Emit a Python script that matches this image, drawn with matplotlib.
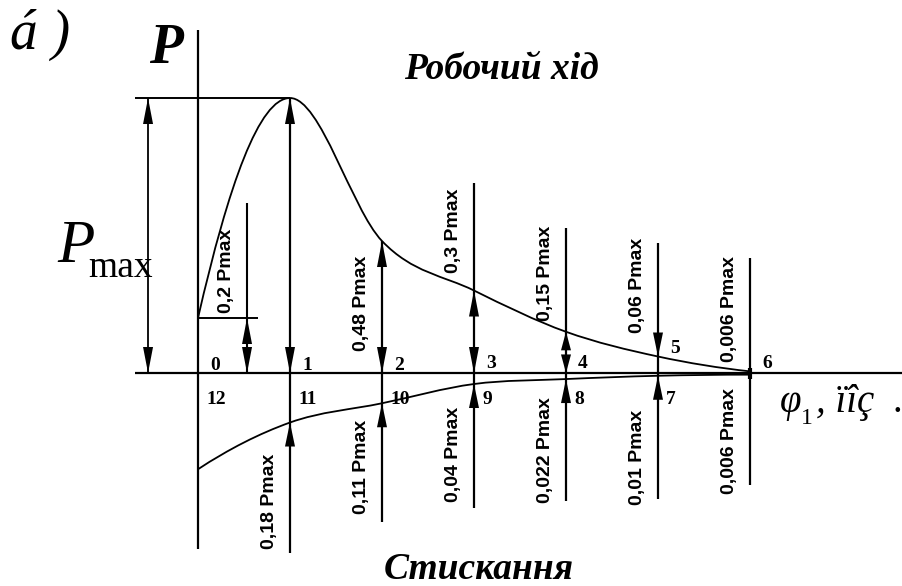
import numpy as np
import matplotlib
matplotlib.use('Agg')
import matplotlib.pyplot as plt
from matplotlib.path import Path
from matplotlib.patches import PathPatch, Polygon

# force diagram: working stroke (top) and compression (bottom), in units of Pmax
points = [0, 1, 2, 3, 4, 5, 6]
p_work = [0.2, 1.0, 0.48, 0.3, 0.15, 0.06, 0.006]
p_comp = [0.35, 0.18, 0.11, 0.04, 0.022, 0.01, 0.006]
names_top = ['0', '1', '2', '3', '4', '5', '6']
names_bottom = ['12', '11', '10', '9', '8', '7']
work_labels = ['0,2 Pmax', '0,48 Pmax', '0,3 Pmax', '0,15 Pmax', '0,06 Pmax', '0,006 Pmax']
comp_labels = ['0,18 Pmax', '0,11 Pmax', '0,04 Pmax', '0,022 Pmax', '0,01 Pmax', '0,006 Pmax']

serif = ['Liberation Serif', 'DejaVu Serif']
narrow = ['Liberation Sans Narrow', 'Liberation Sans', 'DejaVu Sans']

fig = plt.figure(figsize=(9.03, 5.86), dpi=100)
ax = fig.add_axes([0, 0, 1, 1])
ax.set_xlim(-2.1522, 7.6630)
ax.set_ylim(-0.7745, 1.3564)
ax.axis('off')

# pixels per data unit (for arrow head sizes)
SX = 92.0
SY = 275.0


def tangents(x, y):
    # central differences, flat at a local extremum
    x = np.asarray(x, float); y = np.asarray(y, float)
    h = np.diff(x); d = np.diff(y) / h
    m = np.zeros_like(y)
    for i in range(1, len(y) - 1):
        if d[i - 1] * d[i] > 0:
            m[i] = (y[i + 1] - y[i - 1]) / (x[i + 1] - x[i - 1])
    m[0] = ((2 * h[0] + h[1]) * d[0] - h[0] * d[1]) / (h[0] + h[1])
    m[-1] = ((2 * h[-1] + h[-2]) * d[-1] - h[-1] * d[-2]) / (h[-1] + h[-2])
    return m


def smooth_curve(x, y, lw=1.3):
    m = tangents(x, y)
    verts = [(x[0], y[0])]
    codes = [Path.MOVETO]
    for i in range(len(x) - 1):
        h = x[i + 1] - x[i]
        verts += [(x[i] + h / 3, y[i] + m[i] * h / 3),
                  (x[i + 1] - h / 3, y[i + 1] - m[i + 1] * h / 3),
                  (x[i + 1], y[i + 1])]
        codes += [Path.CURVE4] * 3
    ax.add_patch(PathPatch(Path(verts, codes), fill=False, lw=lw, color='black'))


def head(x, y, up, length=26.0):
    # filled arrow head with its tip at (x, y)
    L = length / SY
    w = 5.0 / SX
    base = y - L if up else y + L
    ax.add_patch(Polygon([(x, y), (x - w, base), (x + w, base)], closed=True,
                         color='black', lw=0))


def vline(x, y0, y1, lw=1.5):
    ax.plot([x, x], [y0, y1], color='black', lw=lw, solid_capstyle='butt')


def hline(y, x0, x1, lw=1.5):
    ax.plot([x0, x1], [y, y], color='black', lw=lw, solid_capstyle='butt')


# axes
hline(0, -0.685, 7.663, lw=1.6)
vline(0, -0.64, 1.247, lw=1.6)

# curves
smooth_curve(points, p_work)
smooth_curve(points, [-v for v in p_comp])

# Pmax dimension
pmax_x = -0.543
hline(1.0, -0.685, 1.0, lw=1.4)
vline(pmax_x, 0, 1.0, lw=1.3)
head(pmax_x, 1.0, True)
head(pmax_x, 0.0, False)

# 0,2 Pmax dimension at the start of the stroke
dim0_x = 0.533
hline(p_work[0], 0, 0.652, lw=1.4)
vline(dim0_x, 0, 0.618)
head(dim0_x, p_work[0], True)
head(dim0_x, 0.0, False)

# ordinate lines at points 1..6: top/bottom extents
line_top = [None, 1.0, 0.48, 0.691, 0.527, 0.473, 0.418]
line_bottom = [None, -0.655, -0.542, -0.491, -0.465, -0.458, -0.407]
for i in points[1:]:
    top = line_top[i]
    vline(i, line_bottom[i], top, lw=1.6)
    pw, pc = p_work[i], -p_comp[i]
    if i == 6:
        continue
    if i == 5:
        head(i, pw, False, 24)
    else:
        L = min(26.0, pw * SY * 0.45)
        head(i, pw, True, L)
        head(i, 0.0, False, L)
    head(i, pc, True, 24)

# mark where both curves meet the axis
vline(6, -0.02, 0.02, lw=3)

# value labels
dx_lab = -0.228
work_lab_x = [0.315] + [i + dx_lab for i in points[2:]]
work_lab_y = [0.373, 0.253, 0.518, 0.362, 0.32, 0.233]
for x, y, s in zip(work_lab_x, work_lab_y, work_labels):
    ax.text(x, y, s, rotation=90, ha='center', va='center', fontsize=14,
            fontweight='bold', family=narrow)

comp_lab_x = [i + dx_lab for i in points[1:]]
comp_lab_y = [-0.465, -0.34, -0.296, -0.282, -0.305, -0.247]
for x, y, s in zip(comp_lab_x, comp_lab_y, comp_labels):
    ax.text(x, y, s, rotation=90, ha='center', va='center', fontsize=14,
            fontweight='bold', family=narrow)

# point numbers
top_num_y = [0.011, 0.011, 0.011, 0.018, 0.018, 0.073, 0.018]
for i, s in enumerate(names_top):
    ax.text(i + 0.13, top_num_y[i], s, ha='left', va='baseline', fontsize=14,
            fontweight='bold', family=serif)
for i, s in enumerate(names_bottom):
    ax.text(i + 0.09, -0.112, s, ha='left', va='baseline', fontsize=14,
            fontweight='bold', family=serif)

# captions
ax.text(-2.043, 1.18, 'á )', ha='left', va='baseline', fontsize=40,
        fontstyle='italic', family=serif)
ax.text(-0.53, 1.127, 'P', ha='left', va='baseline', fontsize=40,
        fontstyle='italic', fontweight='bold', family=serif)
ax.text(3.293, 1.069, 'Робочий хід', ha='center', va='baseline', fontsize=27,
        fontstyle='italic', fontweight='bold', family=serif)
ax.text(3.054, -0.749, 'Стискання', ha='center', va='baseline', fontsize=27,
        fontstyle='italic', fontweight='bold', family=serif)
ax.text(-1.533, 0.404, 'P', ha='left', va='baseline', fontsize=44,
        fontstyle='italic', family=serif)
ax.text(-1.196, 0.349, 'max', ha='left', va='baseline', fontsize=27,
        family=serif)
ax.text(6.326, -0.142, 'φ', ha='left', va='baseline', fontsize=28,
        fontstyle='italic', family=serif)
ax.text(6.55, -0.185, '1', ha='left', va='baseline', fontsize=17, family=serif)
ax.text(6.72, -0.142, ', ïîç', ha='left', va='baseline', fontsize=28,
        fontstyle='italic', family=serif)
ax.text(7.55, -0.142, '.', ha='left', va='baseline', fontsize=28, family=serif)

fig.savefig('out.png', dpi=100, facecolor='white')
